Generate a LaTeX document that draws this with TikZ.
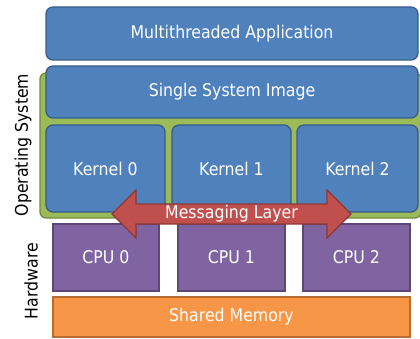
\documentclass[tikz,border=0pt]{standalone}
\usepackage{fontspec}
\setmainfont{DejaVu Sans}[FakeStretch=0.9]
\begin{document}
\begin{tikzpicture}[x=1pt,y=-1pt]
\definecolor{bluefill}{HTML}{4F81BD}
\definecolor{blueline}{HTML}{385D8A}
\definecolor{greenfill}{HTML}{9BBB59}
\definecolor{greenline}{HTML}{71893F}
\definecolor{purplefill}{HTML}{8064A2}
\definecolor{purpleline}{HTML}{5C4776}
\definecolor{orangefill}{HTML}{F79646}
\definecolor{orangeline}{HTML}{B66D31}
\definecolor{redfill}{HTML}{C0504D}
\definecolor{redline}{HTML}{8C3836}
\tikzset{
  lbl/.style={font=\fontsize{17.5}{19}\selectfont, text=white, inner sep=0pt},
  bluebox/.style={draw=blueline, fill=bluefill, line width=1.3pt, rounded corners=7pt},
  purplebox/.style={draw=purpleline, fill=purplefill, line width=1.3pt},
  side/.style={font=\fontsize{17.5}{19}\selectfont, rotate=90, inner sep=0pt}}
\useasboundingbox (0,0) rectangle (420,339);
% OS background
\draw[draw=greenline, fill=greenfill, line width=1.3pt, rounded corners=6pt] (40,73) rectangle (421,218);
% top boxes
\node[bluebox, minimum width=372pt, minimum height=53pt, lbl] (app) at (232,33.5) {Multithreaded Application};
\node[bluebox, minimum width=372pt, minimum height=52pt, lbl] (ssi) at (232,92) {Single System Image};
\node[bluebox, minimum width=119pt, minimum height=87pt, lbl] (k0) at (105.5,168.5) {Kernel 0};
\node[bluebox, minimum width=119pt, minimum height=87pt, lbl] (k1) at (231.5,168.5) {Kernel 1};
\node[bluebox, minimum width=121pt, minimum height=87pt, lbl] (k2) at (357.5,168.5) {Kernel 2};
% CPUs
\node[purplebox, minimum width=106pt, minimum height=67pt, lbl] (c0) at (106,257.5) {CPU 0};
\node[purplebox, minimum width=107pt, minimum height=67pt, lbl] (c1) at (231.5,257.5) {CPU 1};
\node[purplebox, minimum width=107pt, minimum height=67pt, lbl] (c2) at (356.5,257.5) {CPU 2};
% Shared memory
\node[draw=orangeline, fill=orangefill, line width=1.3pt, minimum width=357pt, minimum height=40pt, lbl] (mem) at (231.5,317) {Shared Memory};
% Messaging layer arrow
\draw[draw=redline, fill=redfill, line width=1.3pt, line join=miter]
  (112,214) -- (136,190) -- (136,204) -- (327,204) -- (327,190) -- (351,214)
  -- (327,238) -- (327,224) -- (136,224) -- (136,238) -- cycle;
\node[lbl] (msg) at (231.5,214) {Messaging Layer};
% side labels
\node[side] (os) at (23,145) {Operating System};
\node[side] (hw) at (31,281) {Hardware};
\end{tikzpicture}
\end{document}
